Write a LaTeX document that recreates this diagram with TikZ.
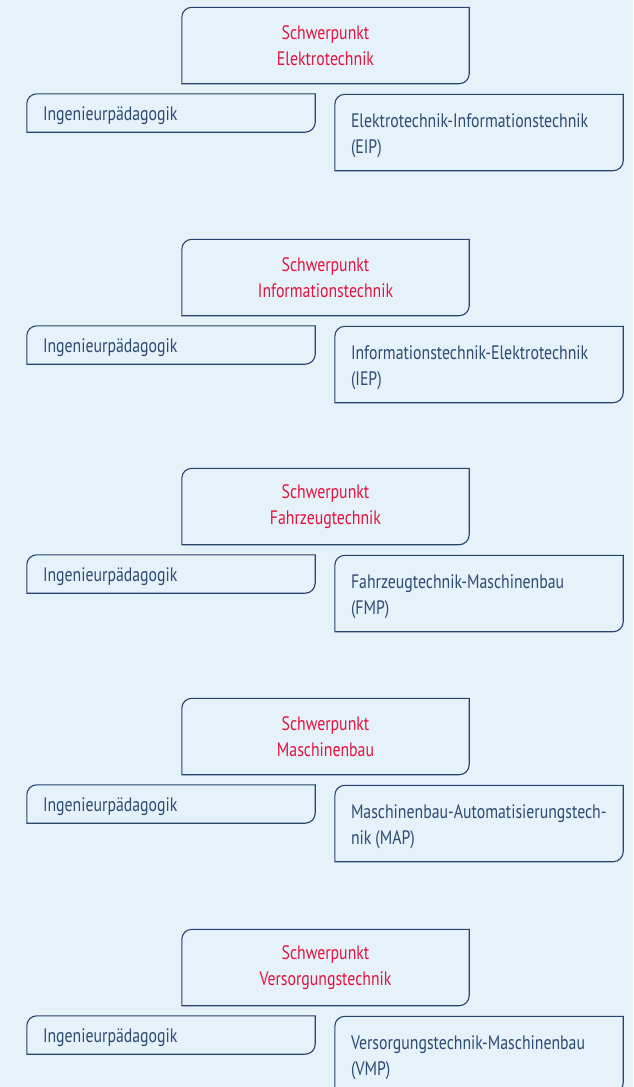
\documentclass[tikz,border=0pt]{standalone}
\usepackage{fontspec}
\setmainfont{PT Sans}[FakeStretch=0.81]
\definecolor{bgc}{HTML}{E6F2FA}
\definecolor{linec}{HTML}{27436B}
\definecolor{txtc}{HTML}{2D4A72}
\definecolor{redc}{HTML}{E0143E}
\newcommand\tlbrbox[2]{%
  \draw[boxline] ([yshift=#2]#1.south west) -- ([yshift=#2-10pt]#1.north west)
    arc[start angle=180,end angle=90,radius=10pt] -- ([yshift=#2]#1.north east)
    -- ([yshift=#2+10pt]#1.south east)
    arc[start angle=0,end angle=-90,radius=10pt] -- cycle;}
\tikzset{
  boxline/.style={draw=linec,line width=1.1pt},
  basebox/.style={inner sep=0pt,font=\fontsize{19.5}{26}\selectfont},
  topbox/.style={basebox,minimum width=287pt,minimum height=76pt,align=center,text=redc},
  leftbox/.style={basebox,minimum width=288pt,minimum height=38pt,text width=256pt,align=left,text=txtc},
  rightbox/.style={basebox,minimum width=288pt,minimum height=76pt,text width=256pt,align=left,text=txtc},
}
\begin{document}
\begin{tikzpicture}[x=1pt,y=-1pt]
\fill[bgc] (0,0) rectangle (633,1087);
\useasboundingbox (0,0) rectangle (633,1087);
\clip (0,0) rectangle (633,1087);
\foreach \yy/\tt/\rt [count=\i] in {
  7/Elektrotechnik/{Elektrotechnik-Informationstechnik\\(EIP)},
  239/Informationstechnik/{Informationstechnik-Elektrotechnik\\(IEP)},
  468/Fahrzeugtechnik/{Fahrzeugtechnik-Maschinenbau\\(FMP)},
  698/Maschinenbau/{Maschinenbau-Automatisierungstech-\\nik\hspace{4pt}(MAP)},
  929/Versorgungstechnik/{Versorgungstechnik-Maschinenbau\\(VMP)}}{
  \node[topbox] (t\i) at (325.5,\yy+39) {Schwerpunkt\\\tt};
  \node[leftbox] (l\i) at (171,\yy+109) {Ingenieurpädagogik};
  \node[rightbox] (r\i) at (479,\yy+128.5) {\rt};
  \tlbrbox{t\i}{0.5pt}
  \tlbrbox{l\i}{3pt}
  \tlbrbox{r\i}{3pt}
}
\end{tikzpicture}
\end{document}
